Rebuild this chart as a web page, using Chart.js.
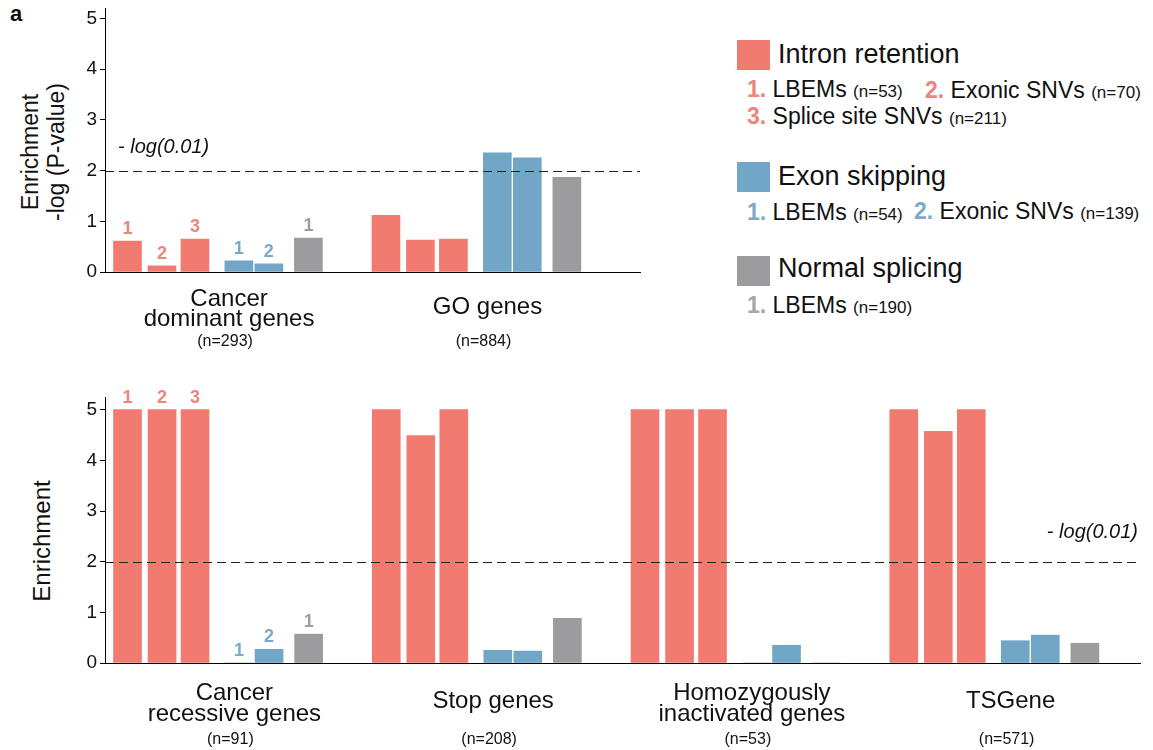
<!DOCTYPE html>
<html lang="en">
<head>
<meta charset="UTF-8">
<title>Enrichment</title>
<script src="https://cdn.jsdelivr.net/npm/chart.js"></script>
<style>
  body { margin: 0; background: #fff; font-family: "Liberation Sans", Arial, sans-serif; }
  #page { position: relative; width: 1153px; height: 750px; overflow: hidden; }
  canvas { position: absolute; left: 0; }
  .abs { position: absolute; white-space: nowrap; line-height: 1; color: #111; }
  .sw { position: absolute; width: 33px; height: 30px; }
  .ttl { font-size: 27px; }
  .itm { font-size: 23px; }
  .itm small { font-size: 17px; }
  .itm b { font-weight: bold; }
  .r { color: #EE847B; } .b { color: #7EAACA; } .g { color: #A6A6A9; }
  .ytitle { position: absolute; transform: translate(-50%, -50%) rotate(-90deg); text-align: center;
            font-size: 23px; line-height: 26px; white-space: nowrap; color: #111; }
</style>
</head>
<body>
<div id="page">
  <div class="abs" style="left:10px;top:3px;font-size:22px;font-weight:bold">a</div>

  <div class="ytitle" style="left:43px;top:152px">Enrichment<br>-log (P-value)</div>
  <div class="ytitle" style="left:42px;top:541px;font-size:24px">Enrichment</div>

  <canvas id="topChart" width="660" height="366" style="top:-6px"></canvas>
  <canvas id="botChart" width="1153" height="370" style="top:380px"></canvas>

  <!-- legend -->
  <div class="sw" style="left:737px;top:40px;background:#F27B71"></div>
  <div class="abs ttl" style="left:778px;top:41px">Intron retention</div>
  <div class="abs itm" style="left:747px;top:78px"><b class="r">1.</b> LBEMs <small>(n=53)</small></div>
  <div class="abs itm" style="left:925px;top:79px"><b class="r">2.</b> Exonic SNVs <small>(n=70)</small></div>
  <div class="abs itm" style="left:747px;top:105px"><b class="r">3.</b> Splice site SNVs <small>(n=211)</small></div>

  <div class="sw" style="left:737px;top:162px;background:#72A6C7"></div>
  <div class="abs ttl" style="left:778px;top:163px">Exon skipping</div>
  <div class="abs itm" style="left:747px;top:201px"><b class="b">1.</b> LBEMs <small>(n=54)</small></div>
  <div class="abs itm" style="left:914px;top:200px"><b class="b">2.</b> Exonic SNVs <small>(n=139)</small></div>

  <div class="sw" style="left:737px;top:256px;background:#9C9C9F"></div>
  <div class="abs ttl" style="left:778px;top:255px">Normal splicing</div>
  <div class="abs itm" style="left:747px;top:294px"><b class="g">1.</b> LBEMs <small>(n=190)</small></div>
</div>

<script>
  // ---- data ----
  const topLabels = [['Cancer', 'dominant genes'], ['GO genes']];
  const topCounts = ['(n=293)', '(n=884)'];
  const topIntron1 = [0.61, 1.12];
  const topIntron2 = [0.12, 0.63];
  const topIntron3 = [0.65, 0.65];
  const topSkip1   = [0.22, 2.35];
  const topSkip2   = [0.16, 2.25];
  const topNormal1 = [0.67, 1.87];

  const botLabels = [['Cancer', 'recessive genes'], ['Stop genes'], ['Homozygously', 'inactivated genes'], ['TSGene']];
  const botCounts = ['(n=91)', '(n=208)', '(n=53)', '(n=571)'];
  const botIntron1 = [5, 5, 5, 5];
  const botIntron2 = [5, 4.49, 5, 4.57];
  const botIntron3 = [5, 5, 5, 5];
  const botSkip1   = [0, 0.25, 0, 0.44];
  const botSkip2   = [0.27, 0.235, 0.35, 0.55];
  const botNormal1 = [0.57, 0.88, 0, 0.39];

  const yTicks = [0, 1, 2, 3, 4, 5];
  const barNumbers = ['1', '2', '3', '1', '2', '1'];
  const threshold = 2;

  // ---- styling / layout ----
  const RED = '#F27B71', BLUE = '#72A6C7', GRAY = '#9C9C9F';
  const RED_N = '#E9877E', BLUE_N = '#7AA8C8', GRAY_N = '#9E9EA2';
  const SLOT = [0.087, 0.2205, 0.348, 0.518, 0.634, 0.787]; // bar centre inside a group
  const FONT = '"Liberation Sans", Arial, sans-serif';

  function makeSets(series) {
    const colors = [RED, RED, RED, BLUE, BLUE, GRAY];
    const numColors = [RED_N, RED_N, RED_N, BLUE_N, BLUE_N, GRAY_N];
    return series.map((vals, j) => ({
      data: vals.map((v, g) => ({ x: g + SLOT[j], y: v })),
      backgroundColor: colors[j],
      numColor: numColors[j],
      barThickness: 28,
      grouped: false,
      borderWidth: 0
    }));
  }

  const decor = {
    id: 'decor',
    afterDatasetsDraw(chart, args, o) {
      const { ctx, chartArea: ca, scales: { x, y } } = chart;
      ctx.save();
      const ty = Math.round(y.getPixelForValue(threshold)) + 0.5;
      ctx.strokeStyle = '#222';
      ctx.lineWidth = 1;
      ctx.setLineDash([9, 5]);
      ctx.beginPath();
      ctx.moveTo(ca.left, ty);
      ctx.lineTo(ca.right, ty);
      ctx.stroke();
      ctx.setLineDash([]);

      ctx.fillStyle = '#111';
      ctx.font = 'italic 20px ' + FONT;
      ctx.textBaseline = 'middle';
      if (o.threshLeft) {
        ctx.textAlign = 'left';
        ctx.fillText('- log(0.01)', ca.left + 13, ty - 24);
      } else {
        ctx.textAlign = 'right';
        ctx.fillText('- log(0.01)', ca.right - 2, ty - 30);
      }

      // numbers over the first group
      ctx.font = 'bold 18px ' + FONT;
      ctx.textAlign = 'center';
      ctx.textBaseline = 'bottom';
      chart.data.datasets.forEach((ds, i) => {
        const bar = chart.getDatasetMeta(i).data[0];
        ctx.fillStyle = ds.numColor;
        ctx.fillText(barNumbers[i], bar.x, bar.y - 3);
      });

      // group labels
      ctx.fillStyle = '#111';
      ctx.textBaseline = 'middle';
      o.labels.forEach((lines, g) => {
        const cx = x.getPixelForValue(g + o.center);
        ctx.font = '24px ' + FONT;
        if (lines.length > 1) {
          lines.forEach((t, k) => ctx.fillText(t, cx, ca.bottom + o.line1 + k * o.gap));
        } else {
          ctx.fillText(lines[0], cx, ca.bottom + o.single);
        }
        ctx.font = '16px ' + FONT;
        ctx.fillText(o.counts[g], cx - 4, ca.bottom + o.count);
      });
      ctx.restore();
    }
  };

  function makeChart(id, series, xMax, yMax, pad, xHeight, deco) {
    return new Chart(document.getElementById(id), {
      type: 'bar',
      data: { datasets: makeSets(series) },
      options: {
        responsive: false,
        animation: false,
        devicePixelRatio: 1,
        layout: { padding: pad },
        plugins: { legend: { display: false }, tooltip: { enabled: false }, decor: deco },
        scales: {
          x: {
            type: 'linear', min: 0, max: xMax, offset: false,
            grid: { display: false },
            ticks: { display: false },
            border: { display: true, color: '#000', width: 1 },
            afterFit: s => { s.height = xHeight; }
          },
          y: {
            min: 0, max: yMax,
            afterBuildTicks: s => { s.ticks = yTicks.map(v => ({ value: v })); },
            grid: { display: true, drawOnChartArea: false, drawTicks: true, tickLength: 5, color: '#000' },
            border: { display: true, color: '#000', width: 1 },
            ticks: { color: '#111', padding: 3, font: { family: FONT, size: 19 } },
            afterFit: s => { s.width = 105; }
          }
        }
      },
      plugins: [decor]
    });
  }

  makeChart('topChart',
    [topIntron1, topIntron2, topIntron3, topSkip1, topSkip2, topNormal1],
    2.07, 5.2, { left: 0, right: 20, top: 6, bottom: 0 }, 88,
    { labels: topLabels, counts: topCounts, threshLeft: true, center: 0.48, line1: 27, gap: 20, single: 35, count: 70 });

  makeChart('botChart',
    [botIntron1, botIntron2, botIntron3, botSkip1, botSkip2, botNormal1],
    4.0, 5.25, { left: 0, right: 13, top: 17, bottom: 0 }, 87,
    { labels: botLabels, counts: botCounts, threshLeft: false, center: 0.5, line1: 30, gap: 21, single: 38, count: 77 });
</script>
</body>
</html>
